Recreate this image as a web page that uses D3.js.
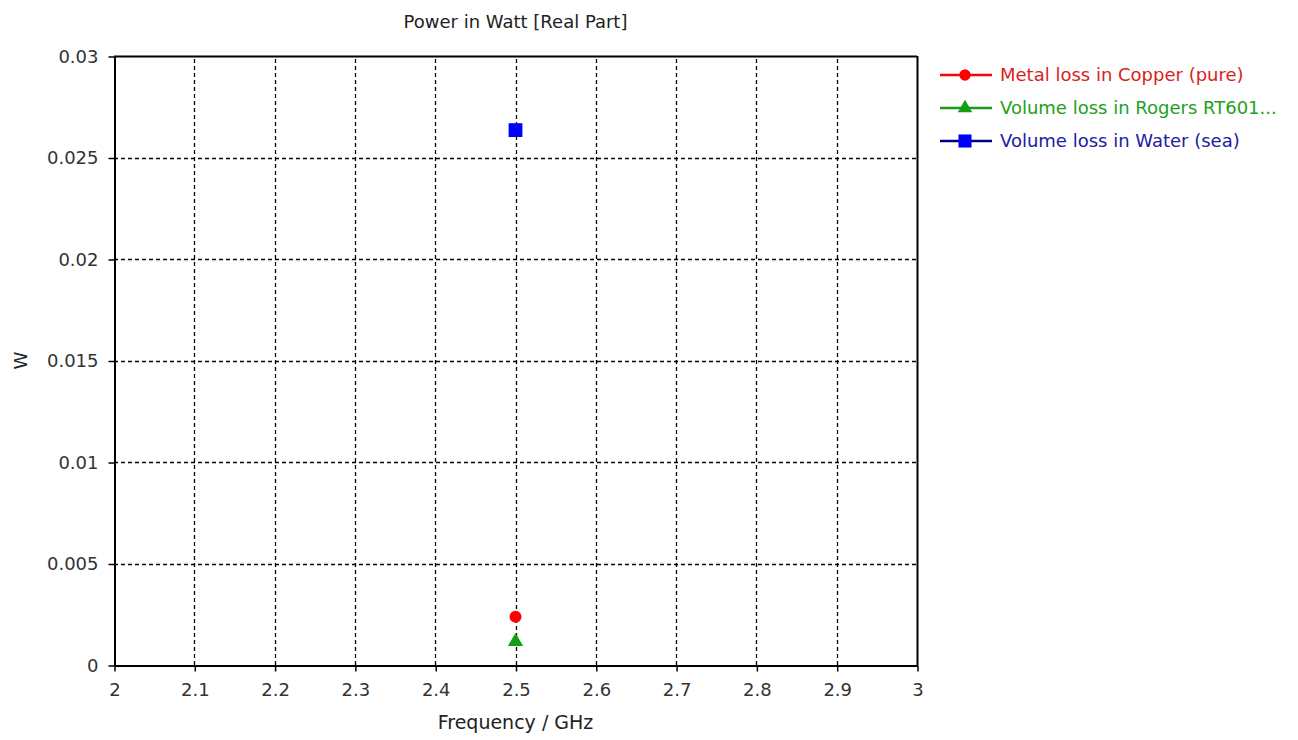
<!DOCTYPE html>
<html><head><meta charset="utf-8">
<script src="https://cdn.jsdelivr.net/npm/d3@7"></script>
<style>body{margin:0;background:#fff;} svg{display:block;} text{font-family:"DejaVu Sans",sans-serif;}</style>
</head><body>
<script>
const title = "Power in Watt [Real Part]";
const xLabel = "Frequency / GHz";
const yLabel = "W";
const xTicks = [2, 2.1, 2.2, 2.3, 2.4, 2.5, 2.6, 2.7, 2.8, 2.9, 3];
const yTicks = [0, 0.005, 0.01, 0.015, 0.02, 0.025, 0.03];
const seriesNames = ["Metal loss in Copper (pure)", "Volume loss in Rogers RT601...", "Volume loss in Water (sea)"];
const seriesFreq = [2.5, 2.5, 2.5];
const seriesValues = [0.00238, 0.00115, 0.02635];
const seriesSymbols = ["circle", "triangle", "square"];
const seriesColors = ["#ff0000", "#10a010", "#0000ff"];
const legendLineColors = ["#ff0000", "#1a9a1a", "#000080"];
const legendTextColors = ["#d81e1e", "#22a022", "#2020a0"];

const W = 1298, H = 740;
const m = {left:114, right:1298-917, top:56, bottom:740-665};
const svg = d3.select("body").append("svg").attr("width", W).attr("height", H);
const x = d3.scaleLinear().domain([2, 3]).range([m.left, W - m.right]);
const y = d3.scaleLinear().domain([0, 0.03]).range([H - m.bottom, m.top]);

// grid
const g = svg.append("g");
g.selectAll(".gx").data(xTicks.slice(1, -1)).join("line")
  .attr("x1", d => Math.round(x(d)) + 0.5).attr("x2", d => Math.round(x(d)) + 0.5)
  .attr("y1", y(0)).attr("y2", y(0.03))
  .attr("stroke", "#000").attr("stroke-width", 1.3).attr("stroke-dasharray", "4,3");
g.selectAll(".gy").data(yTicks.slice(1, -1)).join("line")
  .attr("y1", d => Math.round(y(d)) + 0.5).attr("y2", d => Math.round(y(d)) + 0.5)
  .attr("x1", x(2)).attr("x2", x(3))
  .attr("stroke", "#000").attr("stroke-width", 1.3).attr("stroke-dasharray", "4,3");

// axes
const fmt = d => String(+d.toFixed(4));
const xAxis = svg.append("g").attr("transform", `translate(0.5,${Math.round(y(0)) + 0.5})`)
  .call(d3.axisBottom(x).tickValues(xTicks).tickFormat(fmt).tickSizeInner(6).tickSizeOuter(0).tickPadding(12));
const yAxis = svg.append("g").attr("transform", `translate(${Math.round(x(2)) + 0.5},0.5)`)
  .call(d3.axisLeft(y).tickValues(yTicks).tickFormat(fmt).tickSizeInner(6).tickSizeOuter(0).tickPadding(10));
[xAxis, yAxis].forEach(a => {
  a.select(".domain").attr("stroke", "#000").attr("stroke-width", 2);
  a.selectAll(".tick line").attr("stroke", "#000").attr("stroke-width", 1.5);
  a.selectAll(".tick text").attr("fill", "#333").style("font-size", "18px").style("font-family", "DejaVu Sans, sans-serif");
});
// top and right frame
svg.append("line").attr("x1", x(2)).attr("x2", x(3)).attr("y1", Math.round(y(0.03)) + 0.5).attr("y2", Math.round(y(0.03)) + 0.5).attr("stroke", "#000").attr("stroke-width", 2);
svg.append("line").attr("x1", Math.round(x(3)) + 0.5).attr("x2", Math.round(x(3)) + 0.5).attr("y1", y(0)).attr("y2", y(0.03)).attr("stroke", "#000").attr("stroke-width", 2);

// labels
svg.append("text").attr("x", (x(2) + x(3)) / 2).attr("y", 28).attr("text-anchor", "middle")
  .attr("fill", "#222").style("font-size", "18px").text(title);
svg.append("text").attr("x", (x(2) + x(3)) / 2).attr("y", 729).attr("text-anchor", "middle")
  .attr("fill", "#222").style("font-size", "19px").text(xLabel);
svg.append("text").attr("transform", `translate(27,${(y(0) + y(0.03)) / 2}) rotate(-90)`).attr("text-anchor", "middle")
  .attr("fill", "#222").style("font-size", "18px").text(yLabel);

// markers
const sym = {circle: d3.symbolCircle, triangle: d3.symbolTriangle, square: d3.symbolSquare};
const size = {circle: 113, triangle: 100, square: 190};
const data = seriesNames.map((n, i) => ({name: n, f: seriesFreq[i], v: seriesValues[i], s: seriesSymbols[i], c: seriesColors[i], lc: legendLineColors[i], tc: legendTextColors[i]}));
svg.selectAll(".pt").data(data).join("path")
  .attr("transform", d => `translate(${x(d.f)},${y(d.v)})`)
  .attr("d", d => d3.symbol().type(sym[d.s]).size(size[d.s])())
  .attr("fill", d => d.c);

// legend
const lg = svg.append("g").attr("transform", "translate(940,75)");
const row = lg.selectAll("g").data(data).join("g").attr("transform", (d, i) => `translate(0,${i * 33})`);
row.append("line").attr("x1", 0).attr("x2", 52).attr("stroke", d => d.lc).attr("stroke-width", 2.5);
row.append("path").attr("transform", "translate(25,0)")
  .attr("d", d => d3.symbol().type(sym[d.s]).size(size[d.s] * 0.9)()).attr("fill", d => d.c);
row.append("text").attr("x", 60).attr("dy", "0.36em").attr("fill", d => d.tc).style("font-size", "18px").text(d => d.name);
</script>
</body></html>
